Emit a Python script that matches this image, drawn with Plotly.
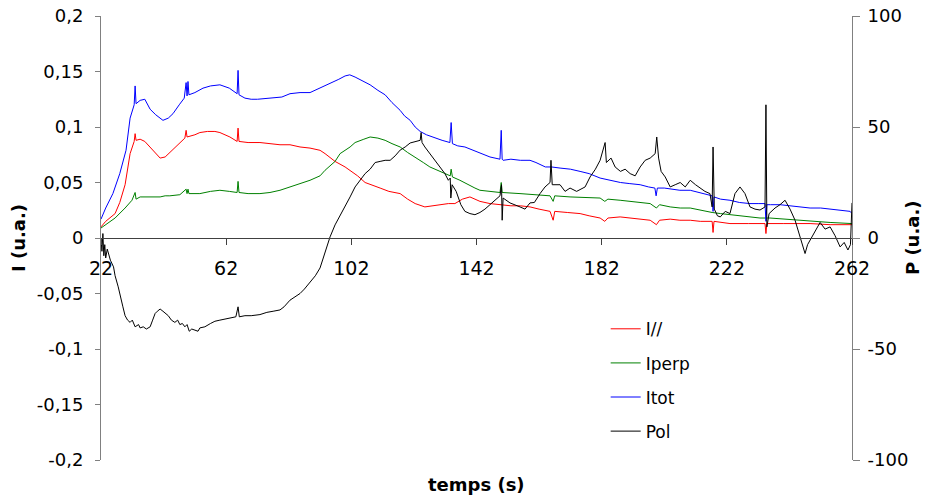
import plotly.graph_objects as go

# ---- Intensity series (u.a.) vs time (s) ----
t_par = [22, 23.5, 26.5, 28, 29.7, 31.3, 32.6, 32.9, 33.2, 34.5, 36, 37.7, 39.5, 40.9, 42.5, 44, 45.6,
         47.2, 48.8, 49.2, 49.5, 52, 53.6, 56, 58.4, 60, 63.2, 65.5, 65.8, 66.1, 69, 72.8, 76, 79.2,
         82.4, 85.6, 88.8, 92, 93.6, 96.8, 100, 101.6, 104, 106.4, 109, 111.2, 114, 117.6, 120,
         122.4, 125.5, 128, 130.3, 133, 135.1, 137.5, 139.9, 141.5, 143.1, 146.3, 149.5, 153, 156,
         159.1, 162, 165.5, 166.5, 167, 171, 175.1, 178, 181.5, 183, 184, 187.9, 192, 197.5, 199.5,
         200.5, 203.9, 207, 210.3, 213.5, 217.3, 217.6, 217.9, 220, 223, 229, 234.2, 234.5, 234.8,
         240, 248.6, 255, 262]
i_par = [0.010, 0.015, 0.022, 0.032, 0.048, 0.076, 0.087, 0.094, 0.088, 0.089, 0.087, 0.082, 0.076,
         0.072, 0.073, 0.077, 0.081, 0.086, 0.090, 0.097, 0.091, 0.093, 0.095, 0.096, 0.096, 0.095,
         0.091, 0.087, 0.099, 0.087, 0.086, 0.086, 0.085, 0.084, 0.084, 0.082, 0.081, 0.079, 0.076,
         0.069, 0.064, 0.061, 0.056, 0.050, 0.047, 0.045, 0.042, 0.040, 0.035, 0.031, 0.028, 0.029,
         0.030, 0.031, 0.031, 0.035, 0.037, 0.035, 0.033, 0.031, 0.030, 0.029, 0.029, 0.028, 0.026,
         0.024, 0.016, 0.024, 0.023, 0.022, 0.020, 0.018, 0.015, 0.018, 0.019, 0.018, 0.016, 0.012,
         0.016, 0.017, 0.016, 0.016, 0.015, 0.015, 0.005, 0.015, 0.014, 0.013, 0.013, 0.013, 0.004,
         0.013, 0.013, 0.013, 0.012, 0.012]

t_perp = [22, 24, 26.5, 29.7, 31.9, 32.9, 33.2, 34.5, 37.7, 40.9, 42.5, 44, 47.2, 49.2, 49.5, 49.8,
          50.1, 53.6, 57, 60, 63, 65.5, 65.8, 66.1, 69, 72.8, 76, 79.2, 82.4, 85.6, 88.8, 92, 93.6,
          96.8, 98.4, 101.6, 103.2, 106, 108, 110.5, 112.8, 115, 117.6, 120, 122.4, 125, 127.1,
          131.9, 133.6, 133.9, 134.3, 136.7, 139.9, 141.5, 143.1, 146.3, 149.5, 149.9, 150.2, 155.9,
          161, 165.5, 166.5, 167, 171.9, 178, 181.5, 183, 184, 187.9, 194.3, 197.5, 199.5, 200.5,
          203.9, 207.1, 210.3, 213.5, 217.3, 220, 223, 226, 229.4, 232.6, 235.8, 240, 245, 250, 255,
          262]
i_perp = [0.009, 0.013, 0.018, 0.027, 0.034, 0.041, 0.035, 0.037, 0.037, 0.037, 0.038, 0.038, 0.039,
          0.044, 0.040, 0.044, 0.040, 0.040, 0.042, 0.043, 0.042, 0.041, 0.051, 0.041, 0.040, 0.040,
          0.041, 0.043, 0.046, 0.049, 0.052, 0.056, 0.061, 0.069, 0.076, 0.082, 0.086, 0.089, 0.091,
          0.090, 0.088, 0.085, 0.082, 0.077, 0.073, 0.068, 0.064, 0.058, 0.056, 0.062, 0.055, 0.052,
          0.047, 0.045, 0.043, 0.042, 0.041, 0.050, 0.041, 0.040, 0.039, 0.038, 0.033, 0.038, 0.037,
          0.036, 0.036, 0.033, 0.035, 0.034, 0.032, 0.031, 0.027, 0.030, 0.028, 0.027, 0.027, 0.025,
          0.023, 0.022, 0.021, 0.020, 0.019, 0.018, 0.018, 0.017, 0.016, 0.015, 0.014, 0.013]

t_tot = [22, 23.5, 25.8, 28, 30, 31.3, 32.6, 32.9, 33.2, 34.5, 36, 37.7, 39.5, 41.8, 43.5, 45, 47,
         48.6, 49.2, 49.5, 49.8, 50.1, 52, 54.6, 57, 60, 63, 65.5, 65.8, 66.1, 68, 70, 72, 75, 77,
         79.8, 82.4, 85.6, 88.8, 92, 95.2, 98, 100, 101.5, 103.2, 105.5, 108, 110.5, 112.8, 115,
         117.6, 119, 120.8, 122.4, 124, 126, 128.7, 131, 133.5, 133.9, 134.3, 136, 138.3, 141,
         143.1, 146.3, 149.5, 149.9, 150.2, 150.5, 153, 156, 159.1, 161, 164, 166, 168.7, 172,
         175.1, 178, 181.5, 185, 188, 191, 194.3, 197, 199, 199.4, 199.8, 202, 204, 207, 210.3, 213,
         215, 217.3, 217.6, 217.9, 220, 223, 226, 229.4, 232, 234.2, 234.5, 234.8, 236, 239, 242.2,
         245, 248.6, 252, 255, 258, 261.4, 262]
i_tot = [0.017, 0.027, 0.040, 0.058, 0.079, 0.108, 0.120, 0.137, 0.121, 0.124, 0.125, 0.116, 0.111,
         0.106, 0.108, 0.112, 0.120, 0.126, 0.140, 0.128, 0.141, 0.129, 0.131, 0.135, 0.137, 0.138,
         0.135, 0.130, 0.151, 0.129, 0.126, 0.125, 0.125, 0.126, 0.126, 0.127, 0.130, 0.131, 0.131,
         0.135, 0.139, 0.143, 0.146, 0.147, 0.145, 0.142, 0.138, 0.133, 0.129, 0.122, 0.115, 0.110,
         0.106, 0.100, 0.096, 0.093, 0.090, 0.088, 0.086, 0.104, 0.085, 0.083, 0.082, 0.079, 0.077,
         0.073, 0.071, 0.097, 0.071, 0.070, 0.071, 0.070, 0.070, 0.068, 0.064, 0.064, 0.063, 0.062,
         0.060, 0.058, 0.054, 0.052, 0.050, 0.049, 0.048, 0.046, 0.045, 0.038, 0.045, 0.045, 0.044,
         0.043, 0.043, 0.041, 0.040, 0.038, 0.024, 0.037, 0.035, 0.034, 0.032, 0.031, 0.031, 0.031,
         0.015, 0.030, 0.030, 0.030, 0.029, 0.028, 0.027, 0.027, 0.026, 0.025, 0.024, 0.022]

# ---- Polarisation (u.a.) vs time (s) ----
t_pol = [22, 22.3, 22.6, 22.9, 23.2, 23.5, 24, 24.5, 25, 26, 26.5, 27.5, 28.1, 29, 29.7, 30.5, 31.3,
         32, 32.9, 34, 34.5, 35.5, 36.5, 37.7, 38.5, 39.3, 40, 40.9, 41.8, 42.5, 43.5, 44.5, 45.6,
         46.5, 47.2, 48, 48.8, 49.5, 50.2, 51, 52, 53, 53.6, 55.2, 57, 58.4, 60, 62, 63.2, 65.1,
         65.8, 66.2, 68, 70, 72.8, 75, 77, 79.2, 80.5, 82.4, 84, 85.6, 87, 88.8, 90.5, 92, 93.6,
         95.2, 96.8, 98.4, 100, 101.6, 103.2, 104.8, 106.4, 108, 109.6, 111.2, 112.8, 114.4, 116,
         117.6, 119.2, 120.8, 122.4, 124, 124.3, 124.6, 125.5, 127.1, 128.7, 130.3, 131.9, 133,
         133.6, 133.8, 134.2, 135.5, 137, 138.3, 139.9, 141.5, 143.1, 144.7, 146.3, 147.9, 149.5,
         150, 150.2, 150.5, 152.7, 155.9, 157.5, 159.1, 160.5, 162.3, 163.9, 165.5, 165.8, 166.2,
         168.7, 170.3, 171.9, 174, 176.7, 178.3, 180, 181.5, 183.1, 183.5, 185, 186.3, 188, 189.5,
         191.1, 192.7, 194.3, 195.9, 197.5, 199.1, 199.6, 200.2, 201, 202.3, 203.9, 205.5, 207.1,
         208.7, 210.3, 212, 213.5, 215, 216.6, 217.3, 217.6, 218, 219, 219.9, 221.5, 223, 224.6,
         226.2, 227.8, 229.4, 231, 232.6, 234.2, 234.5, 234.8, 235.5, 237.4, 239, 240.6, 242.2,
         243.8, 245.4, 247, 247.8, 248.6, 250.2, 251.8, 253.4, 255, 256.6, 258.2, 259.5, 260.7,
         261.5, 262]
p_pol = [0, -6, 2, -8, -3, -9, -5, -8, -10, -13, -17, -22, -26, -31, -35, -37, -38, -37, -40, -39,
         -40.5, -40, -41, -40, -37, -34, -33, -32, -33, -34, -35, -37, -38, -37, -39, -38.5, -40,
         -39, -42, -41, -41.5, -42, -40.5, -40, -38.5, -37.5, -37, -36.5, -36, -35.5, -31, -35.5,
         -35, -35, -34.5, -33.5, -33, -32.4, -31, -28, -26.5, -25, -23, -20, -17, -13.5, -7, 0.5,
         5.9, 10, 14, 18.5, 23, 26, 29, 31, 34, 34.5, 35, 35, 37, 39.6, 41, 42.8, 43.5, 44, 47.5,
         43, 41, 38, 35, 31.5, 29, 26, 27, 18, 24, 21, 15, 12, 11, 10.5, 11.5, 13, 15, 17, 19, 24,
         8, 18, 15.8, 14, 13, 15.8, 16, 20, 23, 25, 35, 24, 24, 21, 22.5, 21, 23, 27.5, 31, 35, 43,
         34, 36, 32, 30, 31, 29, 28, 32, 35, 36, 38, 45.5, 36, 30, 27.5, 23, 24, 25, 23, 26, 24,
         22.5, 21, 20, 14, 41, 13, 10, 9.5, 12, 11, 20, 23, 20, 14, 13, 12.6, 14, 60, 5, 11, 13.5,
         15, 17, 13, 8, 0, -7, -3, -1, 3, 7, 4, 5, 1, -4, -2, -5.4, -3, 15.8]

x_ticks = [22, 62, 102, 142, 182, 222, 262]
i_ticks = [0.2, 0.15, 0.1, 0.05, 0, -0.05, -0.1, -0.15, -0.2]
i_labels = ["0,2", "0,15", "0,1", "0,05", "0", "-0,05", "-0,1", "-0,15", "-0,2"]
p_ticks = [100, 50, 0, -50, -100]
p_labels = ["100", "50", "0", "-50", "-100"]

FONT = "DejaVu Sans, Liberation Sans, Arial, sans-serif"
AXIS_GREY = "#808080"

fig = go.Figure()
series = [
    ("I//", t_par, i_par, "#FF0000", "y"),
    ("Iperp", t_perp, i_perp, "#008000", "y"),
    ("Itot", t_tot, i_tot, "#0000FF", "y"),
    ("Pol", t_pol, p_pol, "#000000", "y2"),
]
for name, tx, vy, color, axis in series:
    fig.add_trace(go.Scatter(x=tx, y=vy, name=name, mode="lines", yaxis=axis,
                             legendgroup=name,
                             line=dict(color=color, width=1)))

fig.update_layout(
    width=930, height=502,
    margin=dict(l=101, r=78, t=16, b=42, autoexpand=False),
    paper_bgcolor="white", plot_bgcolor="white",
    font=dict(family=FONT, size=18, color="black"),
    showlegend=True,
    legend=dict(x=0.672, y=0.335, xanchor="left", yanchor="top",
                bgcolor="rgba(0,0,0,0)", borderwidth=0,
                font=dict(size=17), tracegroupgap=9),
    xaxis=dict(range=[22, 262], tickvals=x_ticks, ticktext=[str(v) for v in x_ticks],
               anchor="free", position=0.5, showline=True, linecolor="#404040", linewidth=1,
               ticks="outside", ticklen=6, tickcolor="#404040", showgrid=False, zeroline=False,
               automargin=False, ticklabelstandoff=7, tickfont=dict(size=19)),
    yaxis=dict(range=[-0.2, 0.2], tickvals=i_ticks, ticktext=i_labels, automargin=False,
               showline=True, linecolor=AXIS_GREY, linewidth=1, ticks="outside", ticklen=5,
               tickcolor=AXIS_GREY, showgrid=False, zeroline=False, ticklabelstandoff=8,
               tickfont=dict(size=18)),
    yaxis2=dict(range=[-100, 100], tickvals=p_ticks, ticktext=p_labels, overlaying="y",
                side="right", showline=True, linecolor=AXIS_GREY, linewidth=1, automargin=False,
                ticks="outside", ticklen=7, tickcolor=AXIS_GREY, showgrid=False,
                zeroline=False, ticklabelstandoff=4, tickfont=dict(size=18)),
    yaxis3=dict(range=[-100, 100], tickvals=p_ticks, overlaying="y", side="right",
                showticklabels=False, ticks="inside", ticklen=7, tickcolor=AXIS_GREY,
                automargin=False, showline=False, showgrid=False, zeroline=False),
)

# axis titles
fig.add_annotation(text="<b>I (u.a.)</b>", xref="paper", yref="paper", x=-0.1105, y=0.5,
                   xanchor="center", yanchor="middle",
                   textangle=-90, showarrow=False, font=dict(size=18))
fig.add_annotation(text="<b>P (u.a.)</b>", xref="paper", yref="paper", x=1.08, y=0.5,
                   xanchor="center", yanchor="middle",
                   textangle=-90, showarrow=False, font=dict(size=18))
fig.add_annotation(text="<b>temps (s)</b>", xref="paper", yref="paper", x=0.5, y=-0.056,
                   xanchor="center", yanchor="middle",
                   showarrow=False, font=dict(size=18))

fig.write_html("out.html")
